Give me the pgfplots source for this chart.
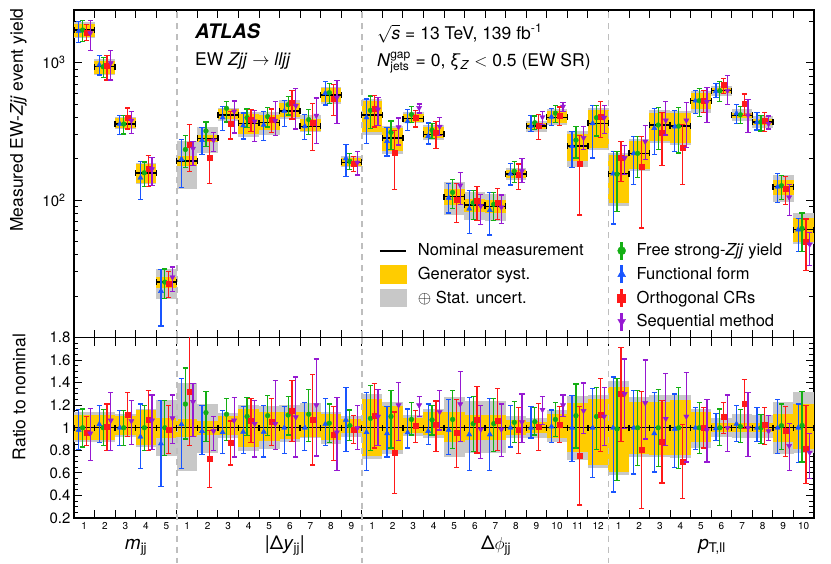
\documentclass[border=0pt]{standalone}
\usepackage{pgfplots}
\pgfplotsset{compat=1.18}
\usepackage{pgfplotstable}
\usepackage{fontspec}
\setmainfont{TeX Gyre Heros}

\definecolor{atlasyellow}{RGB}{255,204,0}
\definecolor{bandgray}{RGB}{200,200,200}
\definecolor{cgreen}{RGB}{20,175,20}
\definecolor{cblue}{RGB}{25,85,255}
\definecolor{cred}{RGB}{255,25,25}
\definecolor{cpurple}{RGB}{150,25,210}
\definecolor{dashgray}{RGB}{190,190,190}

% bin index i, nominal n, ratio bands: generator (ylo,yhi), total (glo,ghi)
\pgfplotstableread{
i n ylo yhi glo ghi
1 1730 0.89 1.11 0.87 1.14
2 935 0.89 1.11 0.87 1.14
3 358 0.935 1.10 0.92 1.12
4 158 0.85 1.16 0.83 1.17
5 25.3 0.91 1.09 0.75 1.25
6 193 0.92 1.08 0.62 1.40
7 281 0.94 1.06 0.78 1.21
8 416 0.935 1.10 0.905 1.13
9 362 0.83 1.17 0.79 1.20
10 366 0.88 1.137 0.815 1.19
11 445 0.90 1.137 0.87 1.20
12 344 0.92 1.137 0.905 1.217
13 582 0.89 1.12 0.86 1.137
14 188 0.95 1.077 0.92 1.107
15 416 0.75 1.256 0.72 1.30
16 283 0.80 1.19 0.77 1.226
17 391 0.95 1.09 0.93 1.113
18 301 0.935 1.137 0.905 1.17
19 106 0.87 1.137 0.74 1.277
20 92 0.89 1.113 0.78 1.238
21 90 0.89 1.113 0.78 1.238
22 155 0.935 1.068 0.905 1.10
23 347 0.95 1.054 0.905 1.083
24 400 0.91 1.12 0.875 1.158
25 247 0.786 1.217 0.71 1.28
26 362 0.667 1.256 0.64 1.29
27 156 0.607 1.36 0.58 1.41
28 219 0.77 1.226 0.74 1.277
29 352 0.76 1.226 0.74 1.29
30 346 0.756 1.247 0.73 1.286
31 529 0.87 1.14 0.82 1.17
32 625 0.96 1.04 0.92 1.083
33 414 0.958 1.045 0.905 1.12
34 370 0.958 1.045 0.91 1.113
35 125 0.875 1.12 0.77 1.226
36 61 0.81 1.21 0.78 1.32
}\bands

% Functional form (ratio to nominal)
\pgfplotstableread{
i v lo hi n
1 0.98 0.81 1.16 1730
2 1.03 0.87 1.20 935
3 1.00 0.84 1.15 358
4 0.92 0.64 1.21 158
5 0.86 0.48 1.24 25.3
6 1.03 0.64 1.44 193
7 0.97 0.76 1.20 281
8 0.96 0.77 1.15 416
9 0.964 0.77 1.19 362
10 0.964 0.74 1.20 366
11 1.00 0.77 1.19 445
12 1.00 0.80 1.226 344
13 1.033 0.845 1.256 582
14 1.07 0.79 1.36 188
15 0.96 0.62 1.31 416
16 0.95 0.74 1.19 283
17 0.958 0.82 1.167 391
18 0.97 0.85 1.21 301
19 0.98 0.76 1.25 106
20 0.94 0.62 1.27 92
21 0.94 0.62 1.26 90
22 1.00 0.83 1.196 155
23 1.00 0.91 1.19 347
24 1.01 0.87 1.158 400
25 1.00 0.70 1.286 247
26 1.00 0.56 1.345 362
27 1.00 0.43 1.45 156
28 1.00 0.59 1.33 219
29 0.95 0.607 1.315 352
30 0.99 0.65 1.30 346
31 1.00 0.81 1.18 529
32 0.995 0.89 1.128 625
33 1.033 0.875 1.20 414
34 1.00 0.875 1.18 370
35 1.00 0.77 1.247 125
36 1.00 0.69 1.21 61
}\tblue

% Free strong-Zjj yield
\pgfplotstableread{
i v lo hi n
1 1.00 0.83 1.167 1730
2 1.00 0.84 1.164 935
3 1.00 0.845 1.15 358
4 1.00 0.795 1.20 158
5 1.00 0.756 1.244 25.3
6 1.21 0.90 1.53 193
7 1.134 0.875 1.32 281
8 1.12 0.89 1.256 416
9 1.10 0.93 1.27 362
10 1.107 0.93 1.286 366
11 1.113 0.935 1.28 445
12 1.12 0.875 1.336 344
13 1.04 0.87 1.21 582
14 1.018 0.89 1.158 188
15 1.083 0.80 1.375 416
16 1.10 0.82 1.333 283
17 1.074 0.935 1.223 391
18 1.07 0.935 1.20 301
19 1.074 0.815 1.33 106
20 1.036 0.79 1.277 92
21 1.036 0.79 1.26 90
22 1.048 0.87 1.23 155
23 1.054 0.935 1.18 347
24 1.074 0.92 1.223 400
25 1.107 0.82 1.387 247
26 1.10 0.81 1.357 362
27 0.99 0.53 1.44 156
28 1.00 0.667 1.33 219
29 1.00 0.66 1.342 352
30 1.00 0.637 1.357 346
31 1.00 0.77 1.226 529
32 1.00 0.84 1.167 625
33 1.01 0.87 1.164 414
34 1.00 0.86 1.12 370
35 1.018 0.81 1.21 125
36 1.02 0.696 1.32 61
}\tgreen

% Orthogonal CRs
\pgfplotstableread{
i v lo hi n
1 0.958 0.84 1.10 1730
2 1.012 0.80 1.21 935
3 1.12 0.92 1.31 358
4 1.07 0.795 1.33 158
5 0.98 0.77 1.20 25.3
6 1.32 0.84 1.85 193
7 0.726 0.47 0.976 281
8 0.87 0.67 1.06 416
9 1.06 0.87 1.256 362
10 1.054 0.845 1.256 366
11 1.15 0.875 1.42 445
12 1.07 0.67 1.47 344
13 0.935 0.71 1.19 582
14 0.98 0.86 1.107 188
15 1.107 0.82 1.39 416
16 0.78 0.42 1.14 283
17 1.018 0.87 1.15 391
18 1.024 0.79 1.238 301
19 0.955 0.65 1.247 106
20 1.074 0.777 1.363 92
21 1.0625 0.80 1.35 90
22 0.98 0.77 1.18 155
23 1.01 0.80 1.214 347
24 1.024 0.87 1.19 400
25 0.75 0.316 1.19 247
26 1.12 0.79 1.44 362
27 1.30 0.875 1.714 156
28 0.806 0.286 1.32 219
29 0.875 0.51 1.24 352
30 0.696 0.375 1.03 346
31 1.00 0.82 1.18 529
32 1.10 0.95 1.226 625
33 1.21 0.994 1.43 414
34 1.024 0.855 1.18 370
35 0.97 0.747 1.19 125
36 0.81 0.503 1.196 61
}\tred

% Sequential method
\pgfplotstableread{
i v lo hi n
1 0.95 0.71 1.17 1730
2 1.065 0.80 1.31 935
3 1.06 0.85 1.24 358
4 1.065 0.81 1.29 158
5 1.085 0.86 1.29 25.3
6 1.23 0.92 1.39 193
7 0.97 0.80 1.10 281
8 1.065 0.74 1.265 416
9 1.035 0.74 1.24 362
10 1.035 0.81 1.42 366
11 1.094 0.74 1.45 445
12 1.20 0.75 1.61 344
13 0.96 0.62 1.27 582
14 1.00 0.81 1.20 188
15 1.10 0.845 1.336 416
16 1.20 0.89 1.40 283
17 1.20 1.10 1.28 391
18 1.14 0.98 1.333 301
19 1.21 0.875 1.50 106
20 0.985 0.726 1.20 92
21 0.985 0.747 1.21 90
22 1.05 0.87 1.30 155
23 1.16 1.03 1.28 347
24 1.20 1.10 1.29 400
25 1.15 0.95 1.396 247
26 1.10 0.84 1.357 362
27 1.30 0.99 1.61 156
28 1.22 0.90 1.60 219
29 1.08 0.845 1.48 352
30 1.10 0.696 1.49 346
31 0.98 0.696 1.253 529
32 1.00 0.79 1.29 625
33 1.00 0.747 1.31 414
34 0.97 0.89 1.107 370
35 0.84 0.62 1.04 125
36 0.78 0.55 0.95 61
}\tpurple

\tikzset{sepline/.style={dashgray, line width=1.6pt, dash pattern=on 6pt off 5pt}}

\pgfplotsset{
  meth/.style={only marks, color=#1, mark options={solid, fill=#1, draw=#1},
    error bars/y dir=both, error bars/y explicit,
    error bars/error bar style={line width=1.2pt, draw=#1, solid},
    error bars/error mark options={rotate=90, line width=1.2pt, mark size=2.6pt, draw=#1}},
  nomstyle/.style={draw=none, no markers,
    error bars/x dir=both, error bars/x fixed=0.5,
    error bars/error bar style={line width=1.4pt, draw=black, solid},
    error bars/error mark options={rotate=90, line width=1.4pt, mark size=3pt, draw=black}},
  box/.style={draw=none, no markers,
    error bars/y dir=plus, error bars/y explicit, error bars/error mark=none,
    error bars/error bar style={line width=20.75pt, draw=#1, solid}},
  common/.style={scale only axis, width=740pt, xmin=0, xmax=36,
    clip mode=individual,
    axis line style={line width=1.2pt},
    every tick/.style={black, line width=0.9pt},
    major tick length=8pt, minor tick length=4.5pt,
    tick align=inside, xtick={0,...,36}, xticklabels={}},
}

\newcommand{\fs}[1]{\fontsize{#1}{#1}\selectfont}

\begin{document}
\begin{tikzpicture}

% ---------------- top panel ----------------
\begin{axis}[common, name=top, at={(0pt,0pt)}, anchor=south west,
  height=327.5pt, ymode=log, ymin=10, ymax=2420,
  ytick={100,1000}, yticklabels={10\textsuperscript{2},10\textsuperscript{3}},
  minor ytick={20,30,40,50,60,70,80,90,200,300,400,500,600,700,800,900,2000},
  yticklabel style={font=\fs{15}, xshift=-5pt},
  ylabel={Measured EW-\textit{Zjj} event yield},
  ylabel style={at={(axis description cs:-0.075,0.664)}, anchor=center, font=\fs{17.5}},
  legend columns=2,
  legend cell align=left,
  legend style={at={(axis description cs:0.4115,0.297)}, anchor=north west,
    draw=none, fill=none, inner sep=0pt, font=\fs{16.5}, row sep=3pt,
    /tikz/every odd column/.append style={column sep=9pt},
    /tikz/column 2/.append style={column sep=32pt},
    /tikz/column 3/.append style={column sep=14pt}},
]
\addplot[box=bandgray, forget plot] table[x expr=\thisrow{i}-0.5, y expr=\thisrow{glo}*\thisrow{n}, y error plus expr=(\thisrow{ghi}-\thisrow{glo})*\thisrow{n}] {\bands};
\addplot[box=atlasyellow, forget plot] table[x expr=\thisrow{i}-0.5, y expr=\thisrow{ylo}*\thisrow{n}, y error plus expr=(\thisrow{yhi}-\thisrow{ylo})*\thisrow{n}] {\bands};

\draw[sepline] (axis cs:5,10) -- (axis cs:5,2420);
\draw[sepline] (axis cs:14,10) -- (axis cs:14,2420);
\draw[sepline] (axis cs:26,10) -- (axis cs:26,2420);

\addplot[nomstyle, forget plot] table[x expr=\thisrow{i}-0.5, y=n] {\bands};

\addplot[meth=cblue, mark=triangle*, mark size=3pt, forget plot] table[x expr=\thisrow{i}-0.77, y expr=\thisrow{v}*\thisrow{n}, y error plus expr=(\thisrow{hi}-\thisrow{v})*\thisrow{n}, y error minus expr=(\thisrow{v}-\thisrow{lo})*\thisrow{n}] {\tblue};
\addplot[meth=cgreen, mark=*, mark size=2.4pt, forget plot] table[x expr=\thisrow{i}-0.58, y expr=\thisrow{v}*\thisrow{n}, y error plus expr=(\thisrow{hi}-\thisrow{v})*\thisrow{n}, y error minus expr=(\thisrow{v}-\thisrow{lo})*\thisrow{n}] {\tgreen};
\addplot[meth=cred, mark=square*, mark size=2.5pt, forget plot] table[x expr=\thisrow{i}-0.39, y expr=\thisrow{v}*\thisrow{n}, y error plus expr=(\thisrow{hi}-\thisrow{v})*\thisrow{n}, y error minus expr=(\thisrow{v}-\thisrow{lo})*\thisrow{n}] {\tred};
\addplot[meth=cpurple, mark=triangle*, mark size=3pt, mark options={rotate=180}, forget plot] table[x expr=\thisrow{i}-0.21, y expr=\thisrow{v}*\thisrow{n}, y error plus expr=(\thisrow{hi}-\thisrow{v})*\thisrow{n}, y error minus expr=(\thisrow{v}-\thisrow{lo})*\thisrow{n}] {\tpurple};

\node[anchor=base west, font=\fs{20}\bfseries\itshape] at (axis description cs:0.159,0.9136) {ATLAS};
\node[anchor=base west, font=\fs{17.5}] at (axis description cs:0.159,0.83) {EW \textit{Zjj} $\rightarrow$ \textit{lljj}};
\node[anchor=base west, font=\fs{17.5}] at (axis description cs:0.405,0.911) {$\sqrt{\mbox{\textit{s}}}$ = 13 TeV, 139 fb\textsuperscript{-1}};
\node[anchor=base west, font=\fs{17.5}] at (axis description cs:0.405,0.827) {\textit{N}$^{\mbox{\fs{12}gap}}_{\mbox{\fs{12}jets}}$ = 0, \textit{ξ}\textsubscript{\textit{Z}} $<$ 0.5 (EW SR)};

\addlegendimage{legend image code/.code={\draw[black,line width=2.2pt] (0pt,0pt)--(26pt,0pt);}}
\addlegendentry{Nominal measurement}
\addlegendimage{cgreen, mark=*, mark size=4pt, legend image code/.code={\draw[line width=2.6pt] (6pt,-9pt)--(6pt,9pt); \draw[only marks] plot coordinates {(6pt,0pt)};}}
\addlegendentry{Free strong-\textit{Zjj} yield}
\addlegendimage{legend image code/.code={\fill[atlasyellow] (0pt,-8.7pt) rectangle (26pt,8.7pt);}}
\addlegendentry{Generator syst.}
\addlegendimage{cblue, mark=triangle*, mark size=4.5pt, legend image code/.code={\draw[line width=2.6pt] (6pt,-9pt)--(6pt,9pt); \draw[only marks] plot coordinates {(6pt,0pt)};}}
\addlegendentry{Functional form}
\addlegendimage{legend image code/.code={\fill[bandgray] (0pt,-8.7pt) rectangle (26pt,8.7pt);}}
\addlegendentry{$\oplus$ Stat. uncert.}
\addlegendimage{cred, mark=square*, mark size=4pt, legend image code/.code={\draw[line width=2.6pt] (6pt,-9pt)--(6pt,9pt); \draw[only marks] plot coordinates {(6pt,0pt)};}}
\addlegendentry{Orthogonal CRs}
\addlegendimage{empty legend}
\addlegendentry{}
\addlegendimage{cpurple, mark=triangle*, mark size=4.5pt, mark options={rotate=180}, legend image code/.code={\draw[line width=2.6pt] (6pt,-9pt)--(6pt,9pt); \draw[only marks] plot coordinates {(6pt,0pt)};}}
\addlegendentry{Sequential method}
\end{axis}

% ---------------- ratio panel ----------------
\begin{axis}[common, at={(top.south west)}, anchor=north west,
  height=180.5pt, ymin=0.2, ymax=1.8,
  extra x ticks={0.5,1.5,2.5,3.5,4.5,5.5,6.5,7.5,8.5,9.5,10.5,11.5,12.5,13.5,14.5,15.5,16.5,17.5,18.5,19.5,20.5,21.5,22.5,23.5,24.5,25.5,26.5,27.5,28.5,29.5,30.5,31.5,32.5,33.5,34.5,35.5},
  extra x tick labels={1,2,3,4,5,1,2,3,4,5,6,7,8,9,1,2,3,4,5,6,7,8,9,10,11,12,1,2,3,4,5,6,7,8,9,10},
  extra x tick style={major tick length=0pt, xticklabel style={font=\fs{10}, yshift=-1pt}},
  ytick={0.2,0.4,0.6,0.8,1,1.2,1.4,1.6,1.8},
  yticklabels={0.2,0.4,0.6,0.8,1,1.2,1.4,1.6,1.8},
  minor y tick num=3,
  yticklabel style={font=\fs{15}},
  ylabel={Ratio to nominal},
  ylabel style={at={(axis description cs:-0.074,0.67)}, anchor=center, font=\fs{17.5}},
]
\addplot[box=bandgray] table[x expr=\thisrow{i}-0.5, y=glo, y error plus expr=\thisrow{ghi}-\thisrow{glo}] {\bands};
\addplot[box=atlasyellow] table[x expr=\thisrow{i}-0.5, y=ylo, y error plus expr=\thisrow{yhi}-\thisrow{ylo}] {\bands};

\draw[sepline] (axis cs:5,1.8) -- (axis cs:5,0.2) -- ++(0pt,-45pt);
\draw[sepline] (axis cs:14,1.8) -- (axis cs:14,0.2) -- ++(0pt,-45pt);
\draw[sepline] (axis cs:26,1.8) -- (axis cs:26,0.2) -- ++(0pt,-45pt);

\addplot[nomstyle] table[x expr=\thisrow{i}-0.5, y expr=1] {\bands};

\addplot[meth=cblue, mark=triangle*, mark size=3pt] table[x expr=\thisrow{i}-0.77, y=v, y error plus expr=\thisrow{hi}-\thisrow{v}, y error minus expr=\thisrow{v}-\thisrow{lo}] {\tblue};
\addplot[meth=cgreen, mark=*, mark size=2.4pt] table[x expr=\thisrow{i}-0.58, y=v, y error plus expr=\thisrow{hi}-\thisrow{v}, y error minus expr=\thisrow{v}-\thisrow{lo}] {\tgreen};
\addplot[meth=cred, mark=square*, mark size=2.5pt] table[x expr=\thisrow{i}-0.39, y=v, y error plus expr=\thisrow{hi}-\thisrow{v}, y error minus expr=\thisrow{v}-\thisrow{lo}] {\tred};
\addplot[meth=cpurple, mark=triangle*, mark size=3pt, mark options={rotate=180}] table[x expr=\thisrow{i}-0.21, y=v, y error plus expr=\thisrow{hi}-\thisrow{v}, y error minus expr=\thisrow{v}-\thisrow{lo}] {\tpurple};

\node[anchor=base, font=\fs{19}] at (axis cs:3.02,0.2) [yshift=-31pt] {\textit{m}\textsubscript{jj}};
\node[anchor=base, font=\fs{19}] at (axis cs:10.26,0.2) [yshift=-31pt] {|Δ\textit{y}\textsubscript{jj}|};
\node[anchor=base, font=\fs{19}] at (axis cs:20.53,0.2) [yshift=-31pt] {Δ$\phi$\textsubscript{jj}};
\node[anchor=base, font=\fs{19}] at (axis cs:31.04,0.2) [yshift=-31pt] {\textit{p}\textsubscript{T,ll}};
\end{axis}

\pgfresetboundingbox
\path[use as bounding box] (-74pt,-225.5pt) rectangle (757pt,337.5pt);
\end{tikzpicture}
\end{document}
